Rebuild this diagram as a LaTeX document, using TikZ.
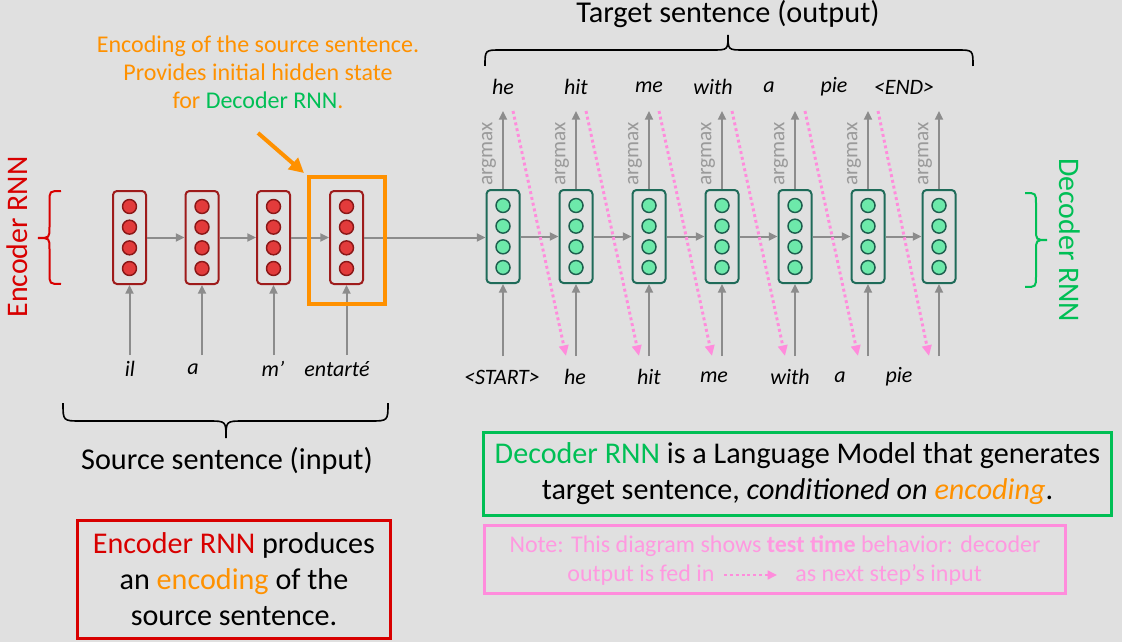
\documentclass[tikz,border=0pt]{standalone}
\usepackage{fontspec}
\setmainfont{Carlito}
\usetikzlibrary{arrows.meta}
\definecolor{bg}{HTML}{E0E0E0}
\definecolor{encred}{HTML}{9E1B1B}
\definecolor{encdot}{HTML}{8A1717}
\definecolor{encfill}{HTML}{E23B3B}
\definecolor{dectl}{HTML}{1F6B59}
\definecolor{decdot}{HTML}{1D5E4E}
\definecolor{decfill}{HTML}{6DE9AA}
\definecolor{arrgray}{HTML}{8C8C8C}
\definecolor{amgray}{HTML}{9A9A9A}
\definecolor{orng}{HTML}{FF9100}
\definecolor{pnk}{HTML}{FF8CDC}
\definecolor{pnktxt}{HTML}{FF99E0}
\definecolor{grn}{HTML}{00BF55}
\definecolor{rd}{HTML}{D80000}
\begin{document}
\begin{tikzpicture}[x=0.75pt,y=-0.75pt,
  cellenc/.style={draw=encred, line width=1.5pt, rounded corners=3pt, minimum width=24.75pt, minimum height=69.75pt, inner sep=0pt},
  celldec/.style={draw=dectl, line width=1.5pt, rounded corners=3pt, minimum width=24.75pt, minimum height=69.75pt, inner sep=0pt},
  dotenc/.style={circle, draw=encdot, fill=encfill, line width=1.1pt, minimum size=10.5pt, inner sep=0pt},
  dotdec/.style={circle, draw=decdot, fill=decfill, line width=1.1pt, minimum size=10.5pt, inner sep=0pt},
  garrow/.style={draw=arrgray, line width=1.5pt, -{Triangle[length=6.5pt,width=6pt]}},
  pinkarrow/.style={draw=pnk, line width=2.2pt, dash pattern=on 2.2pt off 2.2pt, -{Triangle[length=8pt,width=7pt]}},
  word/.style={font=\fontsize{16.5}{19}\selectfont\itshape, inner sep=1pt},
  argm/.style={rotate=90, text=amgray, font=\fontsize{16}{18}\selectfont, inner sep=0pt},
  bigtxt/.style={font=\fontsize{22.7}{26}\selectfont},
  boxtxt/.style={font=\fontsize{22.6}{27}\selectfont, align=center, inner sep=0pt},
  notetxt/.style={text=pnktxt, font=\fontsize{18}{21}\selectfont},
  brace/.style={line width=1.5pt}
]
\fill[bg] (0,0) rectangle (1122,642);
\useasboundingbox (0,0) rectangle (1122,642);

% ---------- encoder cells ----------
\foreach \x [count=\i] in {129.5,202,273.5,346.5}{
  \node[cellenc] (e\i) at (\x,237.5) {};
  \foreach \o [count=\j] in {-31,-10.35,10.35,31}
    \node[dotenc] (e\i c\j) at (\x,237.5+\o) {};
  \coordinate (ein\i) at (\x,355);
  \draw[garrow] (ein\i) -- (e\i.south);
}
\draw[garrow] (e1.east) -- (e2.west);
\draw[garrow] (e2.east) -- (e3.west);
\draw[garrow] (e3.east) -- (e4.west);

\node[word] (wil) at (130,369) {il};
\node[word] (wa) at (193,369) {a};
\node[word] (wm) at (273,369) {m’};
\node[word] (went) at (337,369) {entarté};

% ---------- decoder cells ----------
\foreach \x [count=\i] in {503,576,649,722,795,868,939}{
  \node[celldec] (d\i) at (\x,236.5) {};
  \foreach \o [count=\j] in {-31,-10.35,10.35,31}
    \node[dotdec] (d\i c\j) at (\x,236.5+\o) {};
  \coordinate (din\i) at (\x,356);
  \coordinate (dout\i) at (\x,111);
  \draw[garrow] (din\i) -- (d\i.south);
  \draw[garrow] (d\i.north) -- (dout\i);
  \node[argm] (am\i) at (\x-14,154) {argmax};
}
\draw[garrow] (e4.east) -- (e4.east -| d1.west);
\foreach \i/\j in {1/2,2/3,3/4,4/5,5/6,6/7}
  \draw[garrow] (d\i.east) -- (d\j.west);

% pink feed arrows
\foreach \xa/\xb [count=\i] in {503/576,576/649,649/722,722/795,795/868,868/939}{
  \coordinate (ps\i) at (\xa+10,111);
  \coordinate (pe\i) at (\xb-10,356);
  \draw[pinkarrow] (ps\i) -- (pe\i);
}

% output words
\node[word] (o1) at (503,87) {he};
\node[word] (o2) at (576,87) {hit};
\node[word] (o3) at (649,87) {me};
\node[word] (o4) at (713,87) {with};
\node[word] (o5) at (769,87) {a};
\node[word] (o6) at (834,87) {pie};
\node[word] (o7) at (904,87) {<END>};
% input words
\node[word] (i1) at (502,377) {<START>};
\node[word] (i2) at (575,377) {he};
\node[word] (i3) at (649,377) {hit};
\node[word] (i4) at (714,377) {me};
\node[word] (i5) at (790,377) {with};
\node[word] (i6) at (840,377) {a};
\node[word] (i7) at (899,377) {pie};

% ---------- braces ----------
\draw[brace, rd] (61,191) .. controls (49.5,191) .. (49.5,202) -- (49.5,227)
  .. controls (49.5,238) .. (38,238) .. controls (49.5,238) .. (49.5,249)
  -- (49.5,273) .. controls (49.5,284) .. (61,284);
\draw[brace, grn] (1025,193) .. controls (1036,193) .. (1036,204) -- (1036,229)
  .. controls (1036,240) .. (1047,240) .. controls (1036,240) .. (1036,251)
  -- (1036,276) .. controls (1036,287) .. (1025,287);
\draw[line width=1.2pt] (485,66) .. controls (485,50) .. (501,50) -- (712,50)
  .. controls (728,50) .. (728,35) .. controls (728,50) .. (744,50)
  -- (957,50) .. controls (973,50) .. (973,66);
\draw[line width=1.2pt] (63,403) .. controls (63,421) .. (81,421) -- (208,421)
  .. controls (226,421) .. (226,438) .. controls (226,421) .. (244,421)
  -- (370,421) .. controls (388,421) .. (388,403);

\node[font=\fontsize{22.4}{26}\selectfont, text=rd, rotate=90] (enclab) at (17,237) {Encoder RNN};
\node[font=\fontsize{22.4}{26}\selectfont, text=grn, rotate=-90] (declab) at (1070,240) {Decoder RNN};
\node[bigtxt] (tgt) at (728,14) {Target sentence (output)};
\node[bigtxt] (src) at (227,461) {Source sentence (input)};

% ---------- encoding annotation ----------
\node[text=orng, align=center, font=\fontsize{18}{21}\selectfont] (encnote) at (258,72)
  {Encoding of the source sentence.\\Provides initial hidden state\\for \textcolor{grn}{Decoder RNN}.};
\node[draw=orng, line width=3pt, minimum width=57pt, minimum height=95.25pt, inner sep=0pt] (encbox) at (347,240.5) {};
\coordinate (oas) at (258,133);
\coordinate (oae) at (304,173);
\draw[orng, line width=3pt, -{Triangle[length=11pt,width=11pt]}] (oas) -- (oae);

% ---------- text boxes ----------
\node[boxtxt, draw=grn, line width=2.25pt, minimum width=471pt, minimum height=62.25pt] (gbox) at (797.5,474)
  {\textcolor{grn}{Decoder RNN} is a Language Model that generates\\target sentence, \textit{conditioned on \textcolor{orng}{encoding}}.};
\node[boxtxt, draw=rd, line width=2.25pt, minimum width=234.75pt, minimum height=88.5pt] (rbox) at (234,579.5)
  {\textcolor{rd}{Encoder RNN} produces\\an \textcolor{orng}{encoding} of the\\source sentence.};
\node[draw=pnk, line width=2.25pt, minimum width=435.75pt, minimum height=51pt, inner sep=0pt] (pbox) at (775,559.5) {};
\node[notetxt, anchor=base] (note1) at (775,552)
  {Note: This diagram shows \textbf{test time} behavior: decoder};
\node[notetxt, anchor=base] (fedin) at (641,581) {output is fed in};
\node[notetxt, anchor=base west, inner sep=0pt] (nextin) at (795,581) {as next step’s input};
\coordinate (pa1) at (724,575);
\coordinate (pa2) at (777,575);
\draw[draw=pnk, line width=2.2pt, dash pattern=on 2.2pt off 2.2pt, -{Triangle[length=7pt,width=6.5pt]}] (pa1) -- (pa2);
\end{tikzpicture}
\end{document}
